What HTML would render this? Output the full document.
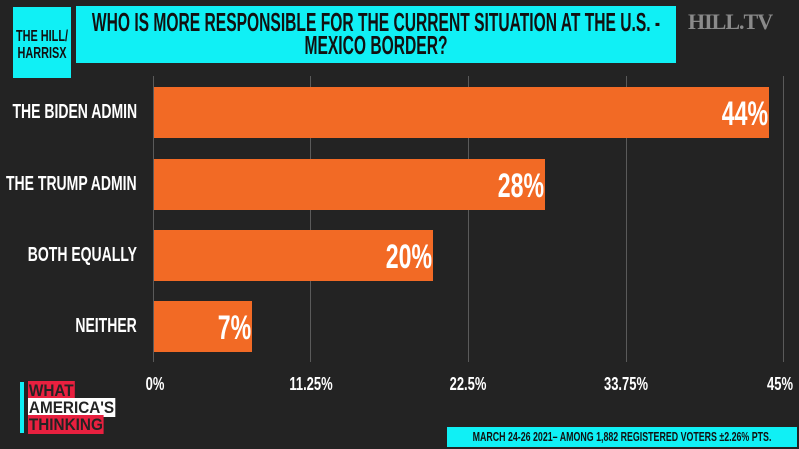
<!DOCTYPE html>
<html><head><meta charset="utf-8"><style>
*{margin:0;padding:0;box-sizing:border-box}
body{width:799px;height:449px;background:#232323;position:relative;overflow:hidden;font-family:"Liberation Sans",sans-serif;font-weight:bold;color:#fff}
.a{position:absolute}
.t{position:absolute;white-space:nowrap}
.grid{position:absolute;top:76px;height:286px;width:1px;background:#5a5a5a}
.bar{position:absolute;left:154px;height:51px;background:#f26a25}
.lbl{position:absolute;right:662px;font-size:20px;height:51px;line-height:51px;white-space:nowrap;transform:scaleX(.70);transform-origin:right}
.val{position:absolute;font-size:34px;height:51px;line-height:54px;white-space:nowrap;transform:scaleX(.68);transform-origin:right}
.tick{position:absolute;top:374px;font-size:18px;white-space:nowrap;transform:translateX(-50%) scaleX(.72)}
</style></head><body>
<div class="a" style="left:13px;top:7px;width:58px;height:71px;background:#10f0f5"></div>
<div class="t" style="left:42px;top:28px;color:#111;font-size:16px;line-height:17px;text-align:center;transform:translateX(-50%) scaleX(.68)">THE HILL/<br>HARRISX</div>
<div class="a" style="left:76px;top:6px;width:600px;height:57px;background:#10f0f5"></div>
<div class="t" style="left:376px;top:11px;color:#111;font-size:26px;line-height:23px;text-align:center;transform:translateX(-50%) scaleX(.6)">WHO IS MORE RESPONSIBLE FOR THE CURRENT SITUATION AT THE U.S. -<br>MEXICO BORDER?</div>
<div class="a" style="left:688px;top:9px;font-family:'Liberation Serif',serif;font-size:22px;color:#8a8a8a;letter-spacing:-1px">HILL.TV</div>
<div class="grid" style="left:153px"></div>
<div class="grid" style="left:310px"></div>
<div class="grid" style="left:468px"></div>
<div class="grid" style="left:626px"></div>
<div class="grid" style="left:783px"></div>
<div class="bar" style="top:87px;width:615px"></div>
<div class="bar" style="top:159px;width:391px"></div>
<div class="bar" style="top:230px;width:279px"></div>
<div class="bar" style="top:301px;width:98px"></div>
<div class="lbl" style="top:87px">THE BIDEN ADMIN</div>
<div class="lbl" style="top:159px">THE TRUMP ADMIN</div>
<div class="lbl" style="top:230px">BOTH EQUALLY</div>
<div class="lbl" style="top:301px">NEITHER</div>
<div class="val" style="top:87px;right:31px">44%</div>
<div class="val" style="top:159px;right:255px">28%</div>
<div class="val" style="top:230px;right:367px">20%</div>
<div class="val" style="top:301px;right:548px">7%</div>
<div class="tick" style="left:155px">0%</div>
<div class="tick" style="left:311px">11.25%</div>
<div class="tick" style="left:468px">22.5%</div>
<div class="tick" style="left:626px">33.75%</div>
<div class="tick" style="left:780px">45%</div>
<div class="a" style="left:20px;top:382px;width:4px;height:51px;background:#10f0f5"></div>
<div class="t" style="left:28px;top:382px;font-size:17px;line-height:17px;transform:scaleX(.9);transform-origin:left">
<span style="background:#e8203f;color:#232323;padding:0 1px">WHAT</span><br>
<span style="background:#fff;color:#232323;padding:0 1px">AMERICA'S</span><br>
<span style="background:#e8203f;color:#232323;padding:0 1px">THINKING</span></div>
<div class="a" style="left:447px;top:427px;width:350px;height:20px;background:#10f0f5"></div>
<div class="t" style="left:622px;top:427px;color:#111;font-size:13px;line-height:20px;transform:translateX(-50%) scaleX(.68)">MARCH 24-26 2021– AMONG 1,882 REGISTERED VOTERS ±2.26% PTS.</div>
</body></html>
